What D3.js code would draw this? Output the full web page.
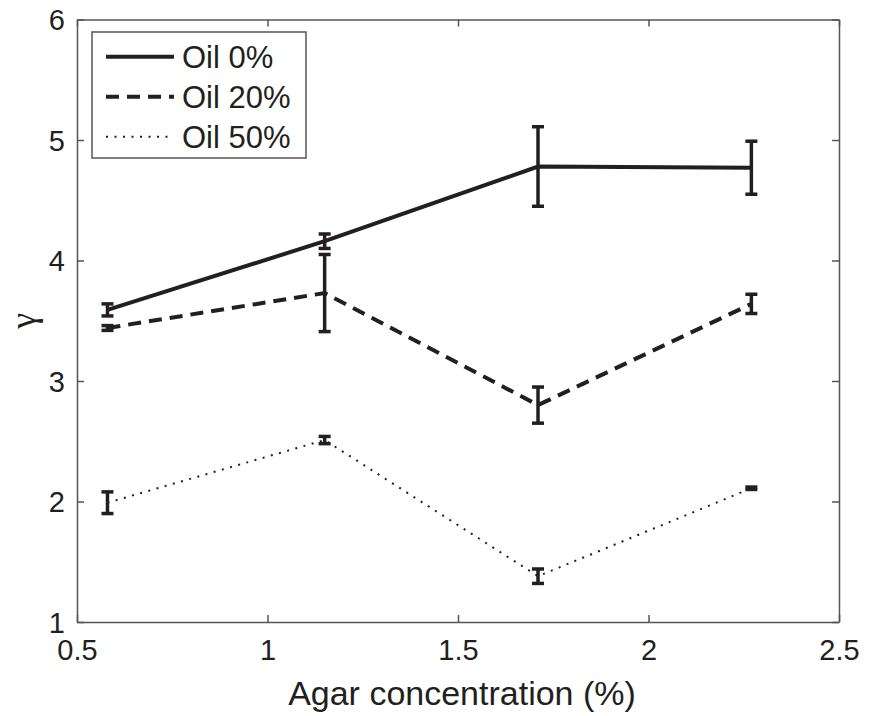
<!DOCTYPE html>
<html>
<head>
<meta charset="utf-8">
<script src="https://cdn.jsdelivr.net/npm/d3@7"></script>
<style>
  body { margin: 0; background: #fff; }
  svg { display: block; font-family: "Liberation Sans", Arial, Helvetica, sans-serif; }
</style>
</head>
<body>
<svg id="chart" width="869" height="716"></svg>
<script>
// --- datos ---
const agar = [0.58, 1.15, 1.71, 2.27];
const oil0 = [3.59, 4.16, 4.78, 4.77];
const oil0Err = [0.05, 0.06, 0.33, 0.22];
const oil20 = [3.44, 3.73, 2.80, 3.64];
const oil20Err = [0.02, 0.32, 0.15, 0.08];
const oil50 = [1.99, 2.51, 1.38, 2.11];
const oil50Err = [0.09, 0.03, 0.06, 0.01];
const seriesNames = ["Oil 0%", "Oil 20%", "Oil 50%"];
const xTicks = [0.5, 1, 1.5, 2, 2.5];
const yTicks = [1, 2, 3, 4, 5, 6];

const ink = "#231f20",
      axisColor = "#555";

const margin = {top: 19.5, right: 30, bottom: 94, left: 77},
      width = 869 - margin.left - margin.right,
      height = 716 - margin.top - margin.bottom;

const svg = d3.select("#chart");
const g = svg.append("g")
    .attr("transform", `translate(${margin.left}, ${margin.top})`);

const x = d3.scaleLinear().domain([0.5, 2.5]).range([0, width]);
const y = d3.scaleLinear().domain([1, 6]).range([height, 0]);

// --- ejes (caja con marcas hacia dentro, estilo MATLAB) ---
function styleAxis(sel) {
    sel.selectAll("path.domain").attr("stroke", axisColor).attr("stroke-width", 1.5);
    sel.selectAll(".tick line").attr("stroke", axisColor).attr("stroke-width", 1.5);
}

const xAxis = g.append("g")
    .attr("transform", `translate(0, ${height})`)
    .call(d3.axisBottom(x).tickValues(xTicks).tickSizeInner(-7).tickSizeOuter(0).tickFormat(d => d));
xAxis.selectAll(".tick text")
    .attr("y", 38).attr("dy", null)
    .style("font-size", "29px").attr("fill", ink);
styleAxis(xAxis);

const xTop = g.append("g")
    .call(d3.axisTop(x).tickValues(xTicks).tickSizeInner(-7).tickSizeOuter(0).tickFormat(""));
styleAxis(xTop);

const yAxis = g.append("g")
    .call(d3.axisLeft(y).tickValues(yTicks).tickSizeInner(-7).tickSizeOuter(0).tickFormat(d => d));
yAxis.selectAll(".tick text")
    .attr("x", -12).attr("dy", "0.36em")
    .style("font-size", "29px").attr("fill", ink);
styleAxis(yAxis);

const yRight = g.append("g")
    .attr("transform", `translate(${width}, 0)`)
    .call(d3.axisRight(y).tickValues(yTicks).tickSizeInner(-7).tickSizeOuter(0).tickFormat(""));
styleAxis(yRight);

g.selectAll(".domain").attr("fill", "none");

// --- etiquetas de ejes ---
svg.append("text")
    .attr("x", margin.left + width / 2 + 4)
    .attr("y", 705)
    .attr("text-anchor", "middle")
    .style("font-size", "34px")
    .attr("fill", ink)
    .text("Agar concentration (%)");

svg.append("text")
    .attr("transform", `translate(30, ${margin.top + height / 2}) rotate(-90)`)
    .attr("text-anchor", "middle")
    .attr("dy", "0.15em")
    .style("font-family", "'Liberation Serif', 'DejaVu Serif', serif")
    .style("font-size", "36px")
    .attr("fill", ink)
    .text("γ");

// --- series ---
const series = [
    {name: seriesNames[0], values: oil0, errs: oil0Err, width: 4, dash: null},
    {name: seriesNames[1], values: oil20, errs: oil20Err, width: 4, dash: "13,8"},
    {name: seriesNames[2], values: oil50, errs: oil50Err, width: 2, dash: "2,6.5"}
];

const line = d3.line()
    .x(d => x(d.x))
    .y(d => y(d.y));

series.forEach(s => {
    const pts = agar.map((a, i) => ({x: a, y: s.values[i], e: s.errs[i]}));

    g.append("path")
        .datum(pts)
        .attr("d", line)
        .attr("fill", "none")
        .attr("stroke", ink)
        .attr("stroke-width", s.width)
        .attr("stroke-dasharray", s.dash);

    const capW = 6;
    const bars = g.append("g").attr("stroke", ink).attr("stroke-width", 3.5);
    bars.selectAll("line.stem")
        .data(pts).join("line")
        .attr("class", "stem")
        .attr("x1", d => x(d.x)).attr("x2", d => x(d.x))
        .attr("y1", d => y(d.y - d.e)).attr("y2", d => y(d.y + d.e));
    bars.selectAll("line.capTop")
        .data(pts).join("line")
        .attr("class", "capTop")
        .attr("x1", d => x(d.x) - capW).attr("x2", d => x(d.x) + capW)
        .attr("y1", d => y(d.y + d.e)).attr("y2", d => y(d.y + d.e));
    bars.selectAll("line.capBot")
        .data(pts).join("line")
        .attr("class", "capBot")
        .attr("x1", d => x(d.x) - capW).attr("x2", d => x(d.x) + capW)
        .attr("y1", d => y(d.y - d.e)).attr("y2", d => y(d.y - d.e));
});

// --- leyenda ---
const legend = svg.append("g").attr("transform", "translate(92, 32)");
legend.append("rect")
    .attr("width", 214).attr("height", 126)
    .attr("fill", "#fff")
    .attr("stroke", axisColor).attr("stroke-width", 1.5);

const rows = legend.selectAll("g.row")
    .data(series).join("g")
    .attr("class", "row")
    .attr("transform", (d, i) => `translate(0, ${24.7 + i * 40})`);
rows.append("line")
    .attr("x1", 14).attr("x2", 82)
    .attr("stroke", ink)
    .attr("stroke-width", d => d.width)
    .attr("stroke-dasharray", d => d.dash);
rows.append("text")
    .attr("x", 90)
    .attr("dy", "0.36em")
    .style("font-size", "31px")
    .attr("fill", ink)
    .text(d => d.name);
</script>
</body>
</html>
